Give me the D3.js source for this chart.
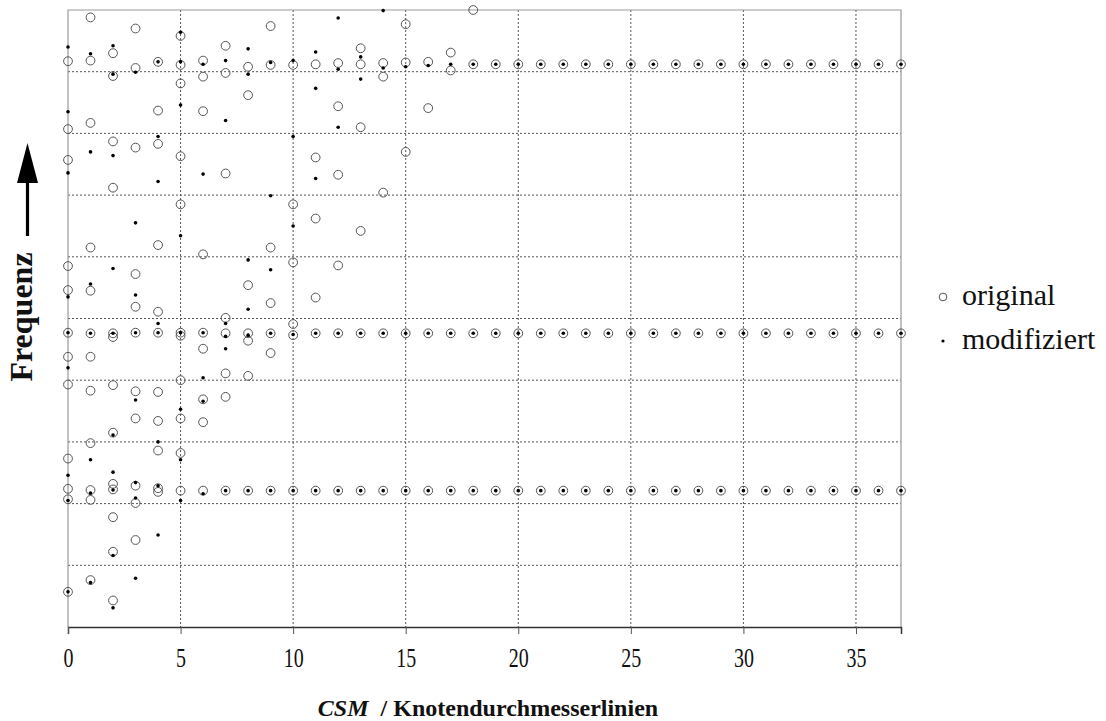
<!DOCTYPE html>
<html>
<head>
<meta charset="utf-8">
<script src="https://cdn.jsdelivr.net/npm/d3@7"></script>
<style>
  html, body { margin: 0; padding: 0; background: #fff; }
  svg { display: block; }
  text { font-family: "Liberation Serif", "Times New Roman", serif; }
</style>
</head>
<body>
<svg id="chart" width="1106" height="721"></svg>
<script>
// ---- data (CSM index -> frequency positions, relative units 0..10) ----
const csm = [0,1,2,3,4,5,6,7,8,9,10,11,12,13,14,15,16,17,18,19,20,21,22,23,24,25,26,27,28,29,30,31,32,33,34,35,36,37];
const xTicks = [0,5,10,15,20,25,30,35];
const yGrid = [1,2,3,4,5,6,7,8,9];
const seriesNames = ["original", "modifiziert"];

const originalFreq = [
  [9.17,8.07,7.57,5.85,5.46,4.77,4.38,3.93,2.73,2.24,2.07,0.57],
  [9.88,9.18,8.17,6.15,5.45,4.76,4.38,3.83,2.98,2.22,2.06,0.76],
  [9.30,8.93,7.87,7.12,4.76,4.70,3.92,3.15,2.32,2.23,1.78,1.22,0.43],
  [9.70,9.06,7.77,5.72,5.19,4.77,3.82,3.38,2.29,2.01,1.41],
  [9.16,8.37,7.83,6.19,5.11,4.77,3.81,3.34,2.86,2.25,2.19],
  [9.58,9.11,8.81,7.63,6.85,4.77,4.72,4.00,3.38,2.82,2.21],
  [9.18,8.92,8.36,6.04,4.77,4.51,3.69,3.32,2.21],
  [9.42,8.98,7.35,5.01,4.76,4.11,3.73,2.21],
  [9.08,8.62,5.54,4.76,4.64,4.07,2.21],
  [9.74,9.11,6.15,5.25,4.76,4.44,2.21],
  [9.11,6.85,5.91,4.91,4.73,2.21],
  [9.12,7.61,6.62,5.34,4.76,2.21],
  [9.14,8.44,7.33,5.86,4.76,2.21],
  [9.38,9.12,8.10,6.42,4.76,2.21],
  [9.14,8.92,7.04,4.76,2.21],
  [9.77,9.15,7.70,4.76,2.21],
  [9.16,8.41,4.76,2.21],
  [9.31,9.02,4.76,2.21],
  [10.0,9.12,4.76,2.21],
  [9.12,4.76,2.21],[9.12,4.76,2.21],[9.12,4.76,2.21],[9.12,4.76,2.21],
  [9.12,4.76,2.21],[9.12,4.76,2.21],[9.12,4.76,2.21],[9.12,4.76,2.21],
  [9.12,4.76,2.21],[9.12,4.76,2.21],[9.12,4.76,2.21],[9.12,4.76,2.21],
  [9.12,4.76,2.21],[9.12,4.76,2.21],[9.12,4.76,2.21],[9.12,4.76,2.21],
  [9.12,4.76,2.21],[9.12,4.76,2.21],[9.12,4.76,2.21]
];

const modifiedFreq = [
  [9.40,8.35,7.36,5.35,4.77,4.20,2.46,2.05,0.57],
  [9.29,7.70,5.56,4.76,2.71,2.17,0.72],
  [9.42,8.96,7.64,5.81,4.76,3.11,2.51,2.22,1.16,0.31],
  [8.99,6.55,5.38,4.77,3.68,2.34,2.09,0.79],
  [9.16,7.95,7.22,4.92,4.77,3.00,2.29,1.49],
  [9.64,9.16,8.46,6.34,4.77,3.53,2.71,2.05],
  [9.12,7.34,4.77,4.04,3.66,2.16],
  [9.18,8.21,4.92,4.71,4.51,2.21],
  [9.37,8.96,5.95,5.15,4.73,2.21],
  [9.15,6.99,5.79,4.76,2.21],
  [9.18,7.95,6.50,4.74,2.21],
  [9.32,8.73,7.27,4.76,2.21],
  [9.87,9.04,8.10,4.76,2.21],
  [9.24,8.88,4.76,2.21],
  [9.99,9.06,4.76,2.21],
  [9.08,4.76,2.21],
  [9.10,4.76,2.21],
  [9.12,4.76,2.21],
  [9.12,4.76,2.21],
  [9.12,4.76,2.21],[9.12,4.76,2.21],[9.12,4.76,2.21],[9.12,4.76,2.21],
  [9.12,4.76,2.21],[9.12,4.76,2.21],[9.12,4.76,2.21],[9.12,4.76,2.21],
  [9.12,4.76,2.21],[9.12,4.76,2.21],[9.12,4.76,2.21],[9.12,4.76,2.21],
  [9.12,4.76,2.21],[9.12,4.76,2.21],[9.12,4.76,2.21],[9.12,4.76,2.21],
  [9.12,4.76,2.21],[9.12,4.76,2.21],[9.12,4.76,2.21]
];

// ---- layout ----
const svg = d3.select("#chart");
const plot = { left: 68, right: 901, top: 10, bottom: 627 };

const x = d3.scaleLinear().domain([0, 37]).range([plot.left, plot.right]);
const y = d3.scaleLinear().domain([0, 10]).range([plot.bottom, plot.top]);

const flatten = (arr) => arr.flatMap((vals, i) => vals.map(v => ({ c: csm[i], f: v })));
const origPts = flatten(originalFreq);
const modPts = flatten(modifiedFreq);

// gridlines
svg.append("g").selectAll("line").data(xTicks.filter(d => d > 0)).join("line")
  .attr("x1", d => x(d)).attr("x2", d => x(d))
  .attr("y1", plot.top).attr("y2", plot.bottom)
  .attr("stroke", "#555").attr("stroke-width", 1).attr("stroke-dasharray", "2,2");

svg.append("g").selectAll("line").data(yGrid).join("line")
  .attr("x1", plot.left).attr("x2", plot.right)
  .attr("y1", d => y(d)).attr("y2", d => y(d))
  .attr("stroke", "#555").attr("stroke-width", 1).attr("stroke-dasharray", "2,2");

// frame (top, left, right)
svg.append("path")
  .attr("d", `M${plot.left},${plot.bottom}V${plot.top}H${plot.right}V${plot.bottom}`)
  .attr("fill", "none").attr("stroke", "#9a9a9a").attr("stroke-width", 1.2);

// x axis
const xAxis = d3.axisBottom(x).tickValues(xTicks).tickSize(7).tickPadding(14).tickFormat(d3.format("d"));
const gx = svg.append("g").attr("transform", `translate(0,${plot.bottom})`).call(xAxis);
gx.select(".domain").attr("stroke", "#333").attr("stroke-width", 1.5);
gx.selectAll(".tick line").attr("stroke", "#555");
gx.selectAll(".tick text")
  .attr("font-size", 27).attr("fill", "#111")
  .attr("transform", "scale(0.74,1)");

// points
svg.append("g").selectAll("circle").data(origPts).join("circle")
  .attr("cx", d => x(d.c)).attr("cy", d => y(d.f)).attr("r", 4.4)
  .attr("fill", "none").attr("stroke", "#555").attr("stroke-width", 1);

svg.append("g").selectAll("circle").data(modPts).join("circle")
  .attr("cx", d => x(d.c)).attr("cy", d => y(d.f)).attr("r", 1.8)
  .attr("fill", "#000");

// axis titles
const xt = svg.append("text")
  .attr("x", 488).attr("y", 716)
  .attr("text-anchor", "middle").attr("font-size", 24).attr("font-weight", "bold").attr("fill", "#111");
xt.append("tspan").attr("font-style", "italic").text("CSM");
xt.append("tspan").text("\u00a0 / Knotendurchmesserlinien");

svg.append("text")
  .attr("transform", "translate(32,317) rotate(-90)")
  .attr("text-anchor", "middle").attr("font-size", 32).attr("font-weight", "bold").attr("fill", "#111")
  .text("Frequenz");

// arrow
svg.append("line").attr("x1", 27.5).attr("x2", 27.5).attr("y1", 236).attr("y2", 175)
  .attr("stroke", "#000").attr("stroke-width", 3.2);
svg.append("path").attr("d", "M27.5,143 L38,183 L17,183 Z").attr("fill", "#000");

// legend
const legend = svg.append("g");
legend.append("circle").attr("cx", 943).attr("cy", 297).attr("r", 3.8)
  .attr("fill", "none").attr("stroke", "#555").attr("stroke-width", 1);
legend.append("circle").attr("cx", 943).attr("cy", 341).attr("r", 1.6).attr("fill", "#000");
legend.selectAll("text.lg").data(seriesNames).join("text")
  .attr("class", "lg")
  .attr("x", 962).attr("y", (d, i) => 305 + i * 44)
  .attr("font-size", 30).attr("fill", "#111")
  .text(d => d);
</script>
</body>
</html>
